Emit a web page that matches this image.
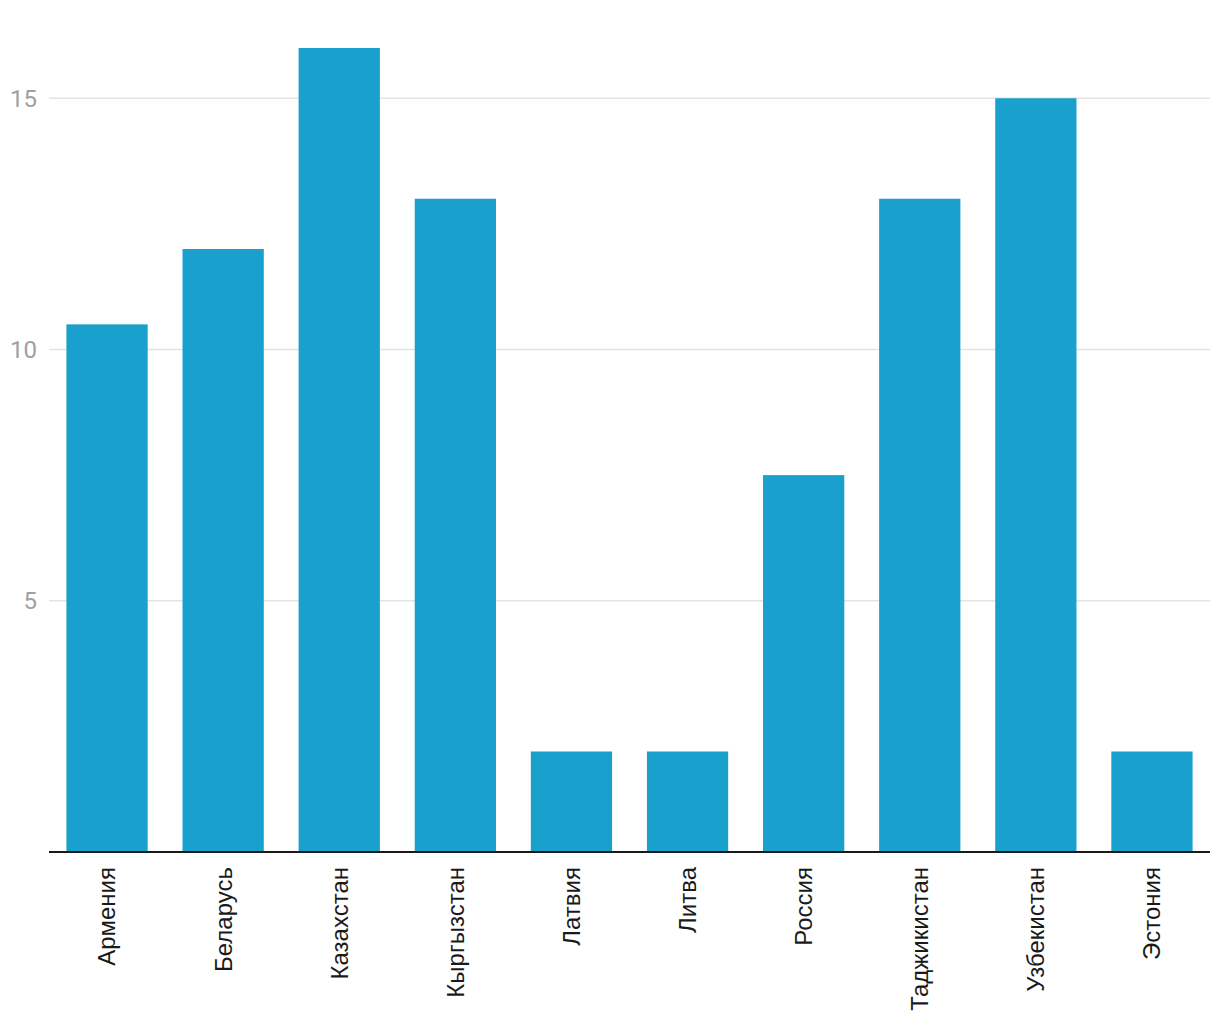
<!DOCTYPE html>
<html>
<head>
<meta charset="utf-8">
<script src="https://cdn.jsdelivr.net/npm/d3@7"></script>
<style>
  body { margin: 0; background: #fff; }
</style>
</head>
<body>
<script>
const countries = ['Армения', 'Беларусь', 'Казахстан', 'Кыргызстан', 'Латвия', 'Литва', 'Россия', 'Таджикистан', 'Узбекистан', 'Эстония'];
const values = [10.5, 12, 16, 13, 2, 2, 7.5, 13, 15, 2];
const yTicks = [5, 10, 15];

const width = 1220,
  height = 1020;
const margin = { top: 48, right: 10, bottom: 168, left: 49 };

const svg = d3
  .select('body')
  .append('svg')
  .attr('width', width)
  .attr('height', height);

const x = d3
  .scaleBand()
  .domain(countries)
  .range([margin.left, width - margin.right])
  .paddingInner(0.3)
  .paddingOuter(0.15);

const y = d3
  .scaleLinear()
  .domain([0, 16])
  .range([height - margin.bottom, margin.top]);

// grid
svg
  .append('g')
  .selectAll('line')
  .data(yTicks)
  .enter()
  .append('line')
  .attr('x1', margin.left)
  .attr('x2', width - margin.right)
  .attr('y1', d => y(d))
  .attr('y2', d => y(d))
  .style('stroke', '#e3e3e3')
  .style('stroke-width', '1.5px');

svg
  .append('g')
  .selectAll('text')
  .data(yTicks)
  .enter()
  .append('text')
  .attr('x', 37)
  .attr('y', d => y(d))
  .attr('dy', '0.35em')
  .attr('text-anchor', 'end')
  .style('font-family', 'Roboto, sans-serif')
  .style('font-size', '24px')
  .style('fill', '#a0a0a0')
  .text(d => d);

// bars
svg
  .selectAll('.bar')
  .data(values)
  .enter()
  .append('rect')
  .attr('class', 'bar')
  .attr('x', (d, i) => x(countries[i]))
  .attr('width', x.bandwidth())
  .attr('y', d => y(d))
  .attr('height', d => y(0) - y(d))
  .style('fill', '#1aa0cc');

// x axis
svg
  .append('line')
  .attr('x1', margin.left)
  .attr('x2', width - margin.right)
  .attr('y1', y(0))
  .attr('y2', y(0))
  .style('stroke', '#1a1a1a')
  .style('stroke-width', '2px');

svg
  .append('g')
  .selectAll('text')
  .data(countries)
  .enter()
  .append('text')
  .attr('transform', d => `translate(${x(d) + x.bandwidth() / 2},${y(0) + 15}) rotate(-90)`)
  .attr('dy', '0.35em')
  .attr('text-anchor', 'end')
  .style('font-family', '"Liberation Sans", Arial, sans-serif')
  .style('font-size', '24px')
  .style('fill', '#1a1a1a')
  .text(d => d);
</script>
</body>
</html>
